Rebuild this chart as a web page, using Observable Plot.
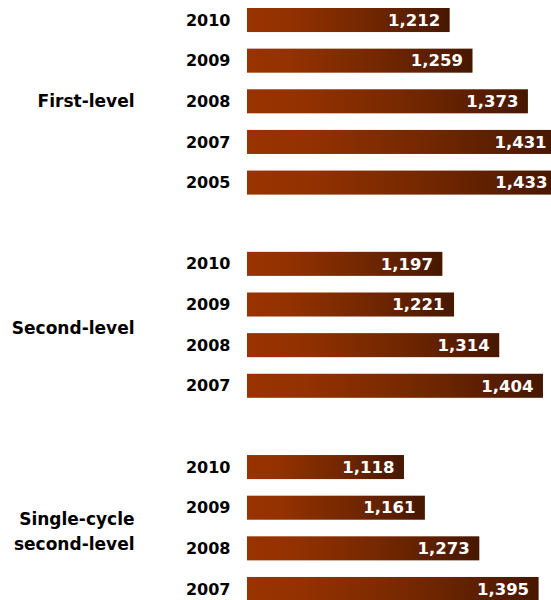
<!DOCTYPE html>
<html>
<head>
<meta charset="utf-8">
<script src="https://cdn.jsdelivr.net/npm/d3@7"></script>
<script src="https://cdn.jsdelivr.net/npm/@observablehq/plot@0.6"></script>
<style>
  html, body { margin: 0; padding: 0; background: #fff; overflow: hidden; }
  #chart svg { overflow: hidden; display: block; }
</style>
</head>
<body>
<div id="chart"></div>
<script>
const groups = ["First-level", "Second-level", "Single-cycle\nsecond-level"];
const firstYears = ["2010", "2009", "2008", "2007", "2005"];
const firstValues = [1212, 1259, 1373, 1431, 1433];
const secondYears = ["2010", "2009", "2008", "2007"];
const secondValues = [1197, 1221, 1314, 1404];
const singleYears = ["2010", "2009", "2008", "2007"];
const singleValues = [1118, 1161, 1273, 1395];

const groupYears = [firstYears, secondYears, singleYears];
const groupValues = [firstValues, secondValues, singleValues];

const rows = [];
const domain = [];
groups.forEach((g, gi) => {
  if (gi > 0) domain.push("gap" + gi);
  groupYears[gi].forEach((yr, i) => {
    const key = g + "|" + yr;
    domain.push(key);
    rows.push({group: g, year: yr, value: groupValues[gi][i], key});
  });
});

const fmt = d3.format(",");
const font = "DejaVu Sans";

const plot = Plot.plot({
  width: 551,
  height: 600,
  marginLeft: 247,
  marginRight: 0,
  marginTop: 0,
  marginBottom: 0,
  style: {fontFamily: font, fontSize: "16px", background: "#fff"},
  x: {domain: [795, 1420.5], axis: null},
  y: {domain, range: [-0.3, 609.3], padding: 0, round: false, axis: null},
  marks: [
    Plot.barX(rows, {
      y: "key", x1: 795, x2: "value",
      fill: "url(#barGrad)", insetTop: 8.3, insetBottom: 8.3
    }),
    Plot.text(rows, {
      y: "key", x: "value", text: d => fmt(d.value),
      textAnchor: "end", dx: -10, fill: "white",
      fontWeight: "bold", fontSize: 16.5
    }),
    Plot.axisY({
      tickSize: 0, tickPadding: 17, label: null,
      tickFormat: d => d.startsWith("gap") ? "" : d.split("|")[1],
      fontWeight: "bold", fontSize: 16, fill: "#000"
    }),
    Plot.text([groups[0]], {
      y: d => d + "|2008", text: d => d, frameAnchor: "left",
      dx: -113, textAnchor: "end", fontWeight: "bold", fontSize: 17, fill: "#000"
    }),
    Plot.text([groups[1], groups[2]], {
      y: d => d + "|2009", text: d => d, frameAnchor: "left",
      dx: -113, dy: 21, textAnchor: "end", fontWeight: "bold", fontSize: 17,
      fill: "#000", lineHeight: 1.47
    })
  ]
});

const ns = "http://www.w3.org/2000/svg";
const defs = document.createElementNS(ns, "defs");
const grad = document.createElementNS(ns, "linearGradient");
grad.setAttribute("id", "barGrad");
grad.setAttribute("x1", "0"); grad.setAttribute("x2", "1");
grad.setAttribute("y1", "0"); grad.setAttribute("y2", "0");
[["0", "#993300"], ["0.2", "#933100"], ["0.6", "#722700"], ["1", "#461700"]].forEach(([o, c]) => {
  const s = document.createElementNS(ns, "stop");
  s.setAttribute("offset", o);
  s.setAttribute("stop-color", c);
  grad.appendChild(s);
});
defs.appendChild(grad);
plot.insertBefore(defs, plot.firstChild);

document.getElementById("chart").appendChild(plot);
</script>
</body>
</html>
